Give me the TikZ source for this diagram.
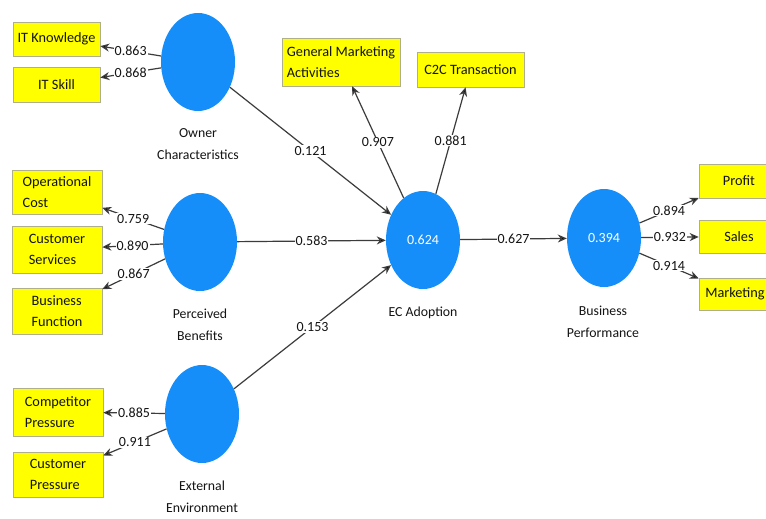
\documentclass[tikz,border=0pt]{standalone}
\usepackage{fontspec}
\setmainfont{Carlito}
\usetikzlibrary{shapes.geometric,arrows.meta}
\definecolor{lvblue}{RGB}{22,142,250}
\definecolor{mvyellow}{RGB}{255,255,0}
\definecolor{boxline}{RGB}{175,175,140}
\definecolor{edgecol}{RGB}{60,60,60}
\definecolor{txt}{RGB}{20,20,20}
\begin{document}
\begin{tikzpicture}[x=1pt,y=-1pt,
  lv/.style={ellipse,fill=lvblue,draw=none,minimum width=74pt,minimum height=98pt,inner sep=0pt,text=white,font=\fontsize{14}{16}\selectfont},
  mv/.style={rectangle,fill=mvyellow,draw=boxline,line width=0.6pt,align=left,font=\fontsize{14.3}{21}\selectfont,text=txt,inner sep=2pt},
  lvname/.style={align=center,font=\fontsize{13.8}{22}\selectfont,text=txt},
  arr/.style={draw=edgecol,line width=1.2pt,-{Stealth[length=9pt,width=8pt,fill=black]}},
  coef/.style={fill=white,inner sep=1pt,font=\fontsize{14}{16}\selectfont,text=txt}]
\useasboundingbox[fill=white] (0,0) rectangle (766,519);

% latent variables
\node[lv] (oc) at (198,62) {};
\node[lv] (pb) at (200,242) {};
\node[lv] (ee) at (202,414) {};
\node[lv] (ec) at (423,240) {0.624};
\node[lv] (bp) at (604,238) {0.394};

\node[lvname] (ocl) at (198,144) {Owner\\Characteristics};
\node[lvname] (pbl) at (200,325) {Perceived\\Benefits};
\node[lvname] (eel) at (202,497) {External\\Environment};
\node[lvname] (ecl) at (423,313) {EC Adoption};
\node[lvname] (bpl) at (603,322) {Business\\Performance};

% indicators
\node[mv,minimum width=87pt,minimum height=34pt] (itk) at (56.5,39) {IT Knowledge};
\node[mv,minimum width=87pt,minimum height=35pt] (its) at (56.5,84.5) {IT Skill};
\node[mv,minimum width=90pt,minimum height=44pt] (opc) at (57,192) {Operational\\Cost};
\node[mv,minimum width=90pt,minimum height=47pt] (cs) at (57,249.5) {Customer\\Services};
\node[mv,minimum width=90pt,minimum height=46pt] (bf) at (57,311) {Business\\Function};
\node[mv,minimum width=90pt,minimum height=48pt] (cp) at (58,412) {Competitor\\Pressure};
\node[mv,minimum width=90pt,minimum height=45pt] (cup) at (58,474.5) {Customer\\Pressure};
\node[mv,minimum width=118pt,minimum height=48pt] (gma) at (341,62) {General Marketing\\Activities};
\node[mv,minimum width=107pt,minimum height=35pt] (c2c) at (470.5,69.5) {C2C Transaction};
\node[mv,minimum width=80pt,minimum height=34pt] (pro) at (739,181) {Profit};
\node[mv,minimum width=80pt,minimum height=33pt] (sal) at (739,236.5) {Sales};
\node[mv,minimum width=72pt,minimum height=32pt] (mkt) at (735,294) {Marketing};

% outer loadings
\draw[arr] (oc) -- node[coef] {0.863} (itk);
\draw[arr] (oc) -- node[coef] {0.868} (its);
\draw[arr] (pb) -- node[coef] {0.759} (opc);
\draw[arr] (pb) -- node[coef] {0.890} (cs);
\draw[arr] (pb) -- node[coef] {0.867} (bf);
\draw[arr] (ee) -- node[coef] {0.885} (cp);
\draw[arr] (ee) -- node[coef] {0.911} (cup);
\draw[arr] (ec) -- node[coef] {0.907} (gma);
\draw[arr] (ec) -- node[coef] {0.881} (c2c);
\draw[arr] (bp) -- node[coef] {0.894} (pro);
\draw[arr] (bp) -- node[coef] {0.932} (sal);
\draw[arr] (bp) -- node[coef] {0.914} (mkt);

% path coefficients
\draw[arr] (oc) -- node[coef] {0.121} (ec);
\draw[arr] (pb) -- node[coef] {0.583} (ec);
\draw[arr] (ee) -- node[coef] {0.153} (ec);
\draw[arr] (ec) -- node[coef] {0.627} (bp);
\end{tikzpicture}
\end{document}
